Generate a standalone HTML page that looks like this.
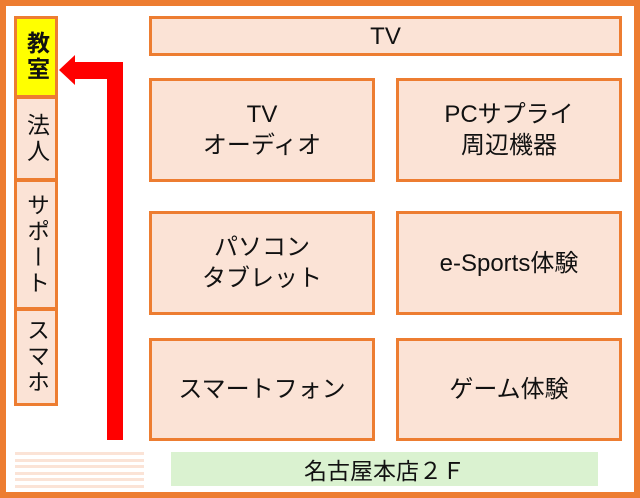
<!DOCTYPE html>
<html><head><meta charset="utf-8"><style>
body{margin:0;width:640px;height:498px;position:relative;background:#fff;overflow:hidden;font-family:"Liberation Sans","Noto Sans CJK JP",sans-serif;}
.frame{position:absolute;left:0;top:0;width:628px;height:486px;border:6px solid #ED7D31;}
.b{position:absolute;box-sizing:border-box;border:3px solid #ED7D31;background:#FBE3D6;display:flex;align-items:center;justify-content:center;text-align:center;font-size:24px;line-height:31px;color:#111;}
.v{font-size:23px;line-height:27px;writing-mode:vertical-rl;letter-spacing:3px;}
.stripe{position:absolute;left:15px;width:129px;height:3px;background:#FBE3D6;}
</style></head><body>
<div class="frame"></div>
<div class="b v" style="left:14px;top:16px;width:44px;height:82px;background:#FFFF00;font-weight:bold;">教室</div>
<div class="b v" style="left:14px;top:96px;width:44px;height:85px;">法人</div>
<div class="b v" style="left:14px;top:179px;width:44px;height:131px;">サポート</div>
<div class="b v" style="left:14px;top:308px;width:44px;height:98px;">スマホ</div>
<svg style="position:absolute;left:0;top:0" width="640" height="498">
<polygon points="59,70 75,55 75,62 123,62 123,440 107,440 107,79 75,79 75,85" fill="#FF0000"/>
</svg>
<div class="b" style="left:149px;top:16px;width:473px;height:40px;">TV</div>
<div class="b" style="left:149px;top:78px;width:226px;height:104px;">TV<br>オーディオ</div>
<div class="b" style="left:396px;top:78px;width:226px;height:104px;">PCサプライ<br>周辺機器</div>
<div class="b" style="left:149px;top:211px;width:226px;height:104px;">パソコン<br>タブレット</div>
<div class="b" style="left:396px;top:211px;width:226px;height:104px;">e-Sports体験</div>
<div class="b" style="left:149px;top:338px;width:226px;height:103px;">スマートフォン</div>
<div class="b" style="left:396px;top:338px;width:226px;height:103px;">ゲーム体験</div>
<div class="stripe" style="top:452px"></div>
<div class="stripe" style="top:459px"></div>
<div class="stripe" style="top:465px"></div>
<div class="stripe" style="top:472px"></div>
<div class="stripe" style="top:478px"></div>
<div class="stripe" style="top:485px"></div>
<div style="position:absolute;left:171px;top:452px;width:427px;height:34px;background:#DAF2D0;display:flex;align-items:center;justify-content:center;font-size:23px;color:#111;">名古屋本店２Ｆ</div>
</body></html>
